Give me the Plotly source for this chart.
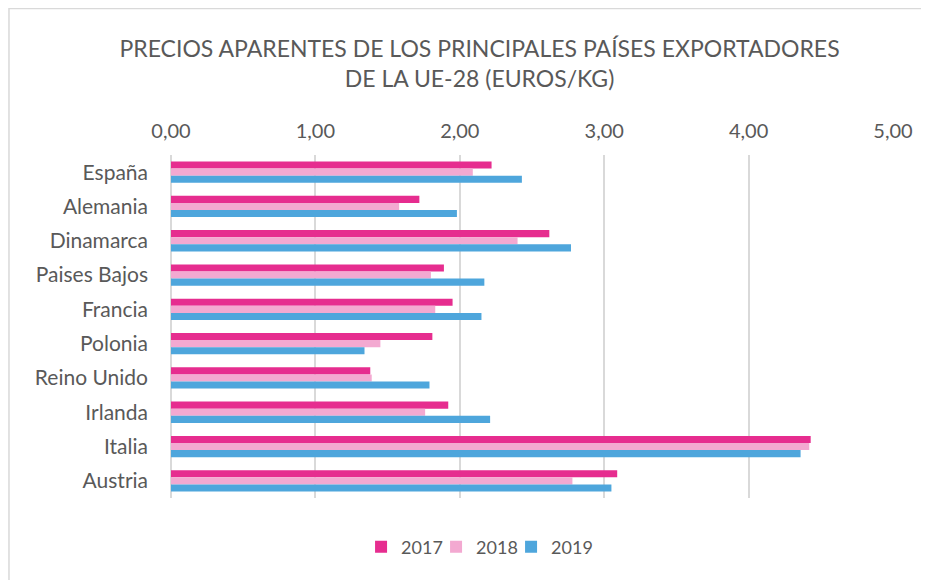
import plotly.graph_objects as go

categories = ["España", "Alemania", "Dinamarca", "Paises Bajos", "Francia",
              "Polonia", "Reino Unido", "Irlanda", "Italia", "Austria"]
v2017 = [2.22, 1.72, 2.62, 1.89, 1.95, 1.81, 1.38, 1.92, 4.43, 3.09]
v2018 = [2.09, 1.58, 2.40, 1.80, 1.83, 1.45, 1.39, 1.76, 4.42, 2.78]
v2019 = [2.43, 1.98, 2.77, 2.17, 2.15, 1.34, 1.79, 2.21, 4.36, 3.05]
series_names = ["2017", "2018", "2019"]
colors = ["#E62D8F", "#F3A9D1", "#4EA6DC"]
x_ticks = [0, 1, 2, 3, 4, 5]

FONT = "Lato, Open Sans, sans-serif"
GRAY = "#595959"

fig = go.Figure()
for name, vals, col in zip(series_names, [v2017, v2018, v2019], colors):
    fig.add_trace(go.Bar(
        y=categories, x=vals, name=name, orientation="h",
        marker=dict(color=col, line=dict(width=0)),
    ))

# invisible spacer entry so the last legend label is not clipped
fig.add_trace(go.Scatter(
    x=[None], y=[None], mode="markers", name=" ",
    marker=dict(color="rgba(0,0,0,0)"), hoverinfo="skip",
))

# page body has an 8px margin, so the figure is 8px smaller and offset
fig.update_layout(
    width=921, height=572,
    paper_bgcolor="white", plot_bgcolor="white",
    separators=",.",
    barmode="group", bargap=0.38, bargroupgap=0,
    margin=dict(l=163, r=36, t=147, b=82),
    title=dict(
        text="PRECIOS APARENTES DE LOS PRINCIPALES PAÍSES EXPORTADORES<br>DE LA UE-28 (EUROS/KG)",
        x=0.512, xanchor="center", y=0.914, yanchor="middle",
        font=dict(family=FONT, size=23, color=GRAY),
    ),
    font=dict(family=FONT, color=GRAY),
    xaxis=dict(
        side="top", range=[0, 5], tickvals=x_ticks, tickformat=".2f",
        showgrid=True, gridcolor="#D9D9D9", gridwidth=1.5,
        zeroline=True, zerolinecolor="#D9D9D9", zerolinewidth=1.5,
        showline=False, ticks="", tickfont=dict(size=20, color=GRAY),
        ticklabelstandoff=12, automargin=False, fixedrange=True,
    ),
    yaxis=dict(
        autorange="reversed", showgrid=False, zeroline=False, showline=False,
        ticks="", ticklabelstandoff=22, automargin=False,
        tickfont=dict(size=21, color=GRAY),
    ),
    legend=dict(
        orientation="h", x=0.471, xanchor="center", y=-0.143, yanchor="middle",
        font=dict(size=18, color=GRAY), traceorder="normal",
        entrywidth=30, entrywidthmode="pixels",
    ),
    shapes=[dict(type="rect", xref="paper", yref="paper",
                 x0=-0.2244, x1=1.2, y0=-0.4, y1=1.427,
                 line=dict(color="#D9D9D9", width=1.5), fillcolor="rgba(0,0,0,0)")],
)

fig.write_html("out.html")
